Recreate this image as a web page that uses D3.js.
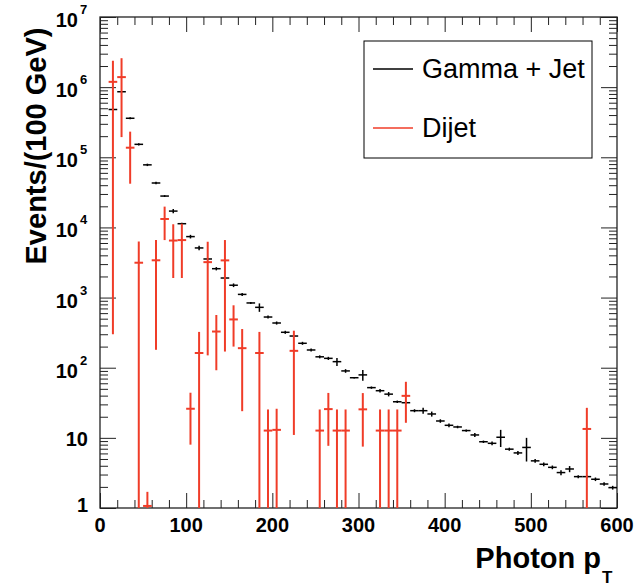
<!DOCTYPE html>
<html>
<head>
<meta charset="utf-8">
<script src="https://cdn.jsdelivr.net/npm/d3@7"></script>
<style>
  html, body { margin: 0; padding: 0; background: #fff; }
  svg { display: block; }
  text { font-family: "Liberation Sans", Arial, Helvetica, sans-serif; }
</style>
</head>
<body>
<svg id="chart" width="638" height="588"></svg>
<script>
// Bin centres (GeV), 10 GeV wide bins
const gjBins = [15,25,35,45,55,65,75,85,95,105,115,125,135,145,155,165,175,185,195,205,
  215,225,235,245,255,265,275,285,295,305,315,325,335,345,355,365,375,385,395,405,
  415,425,435,445,455,465,475,485,495,505,515,525,535,545,555,565,575,585,595];
// Gamma + Jet: events per bin and statistical errors
const gjValues = [480000,860000,360000,153000,78000,43000,28000,17100,11300,7400,
  5100,3550,2580,1900,1500,1110,838,726,528,434,
  320,283,223,179,143,136,122,90,72,79,
  52,47,42,32.7,31.7,24.4,24.4,21.9,17.4,15.1,
  14.3,12.7,11,8.8,8.36,10.2,6.9,6.1,7.3,4.7,
  4.2,3.8,3.2,3.6,2.8,2.8,2.57,2.2,1.95];
const gjErrors = [14000,17000,11000,6000,3100,1700,850,1200,340,440,
  360,110,140,57,90,55,25,100,26,22,
  16,8,11,9,7,7,16,5.4,2,14,
  2,2.8,3,1.3,1.3,1.2,2.4,1.8,1.0,0.9,
  0.6,0.5,0.7,0.35,0.5,2.8,0.35,0.4,2.7,0.3,
  0.25,0.23,0.26,0.36,0.14,0.14,0.15,0.13,0.12];

// Dijet: occupied bins only
const djBins = [15,25,35,45,55,65,75,85,95,105,115,125,135,145,155,165,185,195,205,225,
  255,265,275,285,305,325,335,345,355,565];
const djValues = [1190000,1390000,137000,3140,1.07,3400,13200,6500,6600,26,
  162,3200,328,3390,488,190,162,12.7,13,174,
  12.7,25.7,12.7,12.7,25.5,12.7,12.7,12.7,39.7,13.4];
const djErrors = [1189700,1196000,95000,3140,0.63,3220,6600,4600,4700,18,
  162,3050,236,3220,288,166,162,12.7,13,163,
  12.7,18,12.7,12.7,18,12.7,12.7,12.7,23.3,13.4];

const binWidth = 10;
const xTickLabels = [0,100,200,300,400,500,600];
const yDecades = [0,1,2,3,4,5,6,7];
const legendLabels = ["Gamma + Jet", "Dijet"];
const colors = { gj: "#000000", dj: "#f03c28" };

const svg = d3.select("#chart");
const plotL = 100, plotR = 617, plotT = 17, plotB = 508;

const x = d3.scaleLinear().domain([0, 600]).range([plotL, plotR]);
const y = d3.scaleLog().domain([1, 1e7]).range([plotB, plotT]);

// Major / minor tick values
const yMajor = yDecades.map(d => Math.pow(10, d));
const yMinor = [];
yDecades.slice(0, -1).forEach(d => {
  for (let m = 2; m <= 9; m++) yMinor.push(m * Math.pow(10, d));
});
const xMajor = xTickLabels;
const xMinor = d3.range(20, 600, 20).filter(v => v % 100 !== 0);

function styleAxis(g) {
  g.select(".domain").remove();
  g.selectAll(".tick line").attr("stroke", "#222").attr("stroke-width", 1);
  g.selectAll(".tick text").remove();
}

// Inward ticks on all four sides
svg.append("g").attr("transform", `translate(${plotL},0)`)
  .call(d3.axisLeft(y).tickValues(yMajor).tickSize(-16)).call(styleAxis);
svg.append("g").attr("transform", `translate(${plotL},0)`)
  .call(d3.axisLeft(y).tickValues(yMinor).tickSize(-8)).call(styleAxis);
svg.append("g").attr("transform", `translate(${plotR},0)`)
  .call(d3.axisRight(y).tickValues(yMajor).tickSize(-16)).call(styleAxis);
svg.append("g").attr("transform", `translate(${plotR},0)`)
  .call(d3.axisRight(y).tickValues(yMinor).tickSize(-8)).call(styleAxis);
svg.append("g").attr("transform", `translate(0,${plotB})`)
  .call(d3.axisBottom(x).tickValues(xMajor).tickSize(-15)).call(styleAxis);
svg.append("g").attr("transform", `translate(0,${plotB})`)
  .call(d3.axisBottom(x).tickValues(xMinor).tickSize(-8)).call(styleAxis);
svg.append("g").attr("transform", `translate(0,${plotT})`)
  .call(d3.axisTop(x).tickValues(xMajor).tickSize(-15)).call(styleAxis);
svg.append("g").attr("transform", `translate(0,${plotT})`)
  .call(d3.axisTop(x).tickValues(xMinor).tickSize(-8)).call(styleAxis);

// Frame
svg.append("rect")
  .attr("x", plotL).attr("y", plotT)
  .attr("width", plotR - plotL).attr("height", plotB - plotT)
  .attr("fill", "none").attr("stroke", "#222").attr("stroke-width", 1.3);

// Y tick labels: 1, 10, then 10^n
const yLab = svg.append("g").attr("font-weight", "bold").attr("fill", "#000");
yDecades.forEach(d => {
  const ty = y(Math.pow(10, d));
  if (d === 0) {
    yLab.append("text").attr("x", 88).attr("y", ty + 4)
      .attr("text-anchor", "end").attr("font-size", 20).text("1");
  } else if (d === 1) {
    yLab.append("text").attr("x", 88).attr("y", ty + 8)
      .attr("text-anchor", "end").attr("font-size", 20).text("10");
  } else {
    yLab.append("text").attr("x", 78).attr("y", ty + 10)
      .attr("text-anchor", "end").attr("font-size", 20).text("10");
    yLab.append("text").attr("x", 80).attr("y", ty - 3)
      .attr("text-anchor", "start").attr("font-size", 13).text(String(d));
  }
});

// X tick labels
svg.append("g").attr("font-weight", "bold").attr("font-size", 20)
  .selectAll("text").data(xTickLabels).join("text")
  .attr("x", d => x(d)).attr("y", 532)
  .attr("text-anchor", "middle").text(d => d);

// Axis titles
svg.append("text")
  .attr("transform", "translate(46,146) rotate(-90)")
  .attr("text-anchor", "middle").attr("font-weight", "bold").attr("font-size", 29)
  .text("Events/(100 GeV)");

svg.append("text")
  .attr("x", 601).attr("y", 568)
  .attr("text-anchor", "end").attr("font-weight", "bold").attr("font-size", 29)
  .text("Photon p");
svg.append("text").attr("x", 602).attr("y", 583)
  .attr("font-weight", "bold").attr("font-size", 17).text("T");

// Histogram points with error bars
function drawHist(bins, values, errors, color, width) {
  const g = svg.append("g").attr("stroke", color).attr("stroke-width", width).attr("fill", "none");
  bins.forEach((b, i) => {
    const v = values[i], e = errors[i];
    const yv = y(Math.max(v, 1));
    const yLo = v - e > 1 ? y(v - e) : plotB;
    const yHi = y(Math.min(v + e, 1e7));
    if (v >= 1) {
      g.append("line")
        .attr("x1", x(b - binWidth / 2)).attr("x2", x(b + binWidth / 2))
        .attr("y1", yv).attr("y2", yv);
    }
    g.append("line")
      .attr("x1", x(b)).attr("x2", x(b))
      .attr("y1", yLo).attr("y2", yHi);
  });
}
drawHist(gjBins, gjValues, gjErrors, colors.gj, 1.5);
drawHist(djBins, djValues, djErrors, colors.dj, 2);

// Legend
const lg = svg.append("g");
lg.append("rect").attr("x", 364).attr("y", 41).attr("width", 228).attr("height", 117)
  .attr("fill", "#fff").attr("stroke", "#000").attr("stroke-width", 1);
const legendColors = [colors.gj, colors.dj];
const legendY = [69, 128];
legendLabels.forEach((label, i) => {
  lg.append("line").attr("x1", 373).attr("x2", 413)
    .attr("y1", legendY[i]).attr("y2", legendY[i])
    .attr("stroke", legendColors[i]).attr("stroke-width", 1.5);
  lg.append("text").attr("x", 422).attr("y", legendY[i] + 9)
    .attr("font-size", 27).attr("fill", "#000").text(label);
});
</script>
</body>
</html>
